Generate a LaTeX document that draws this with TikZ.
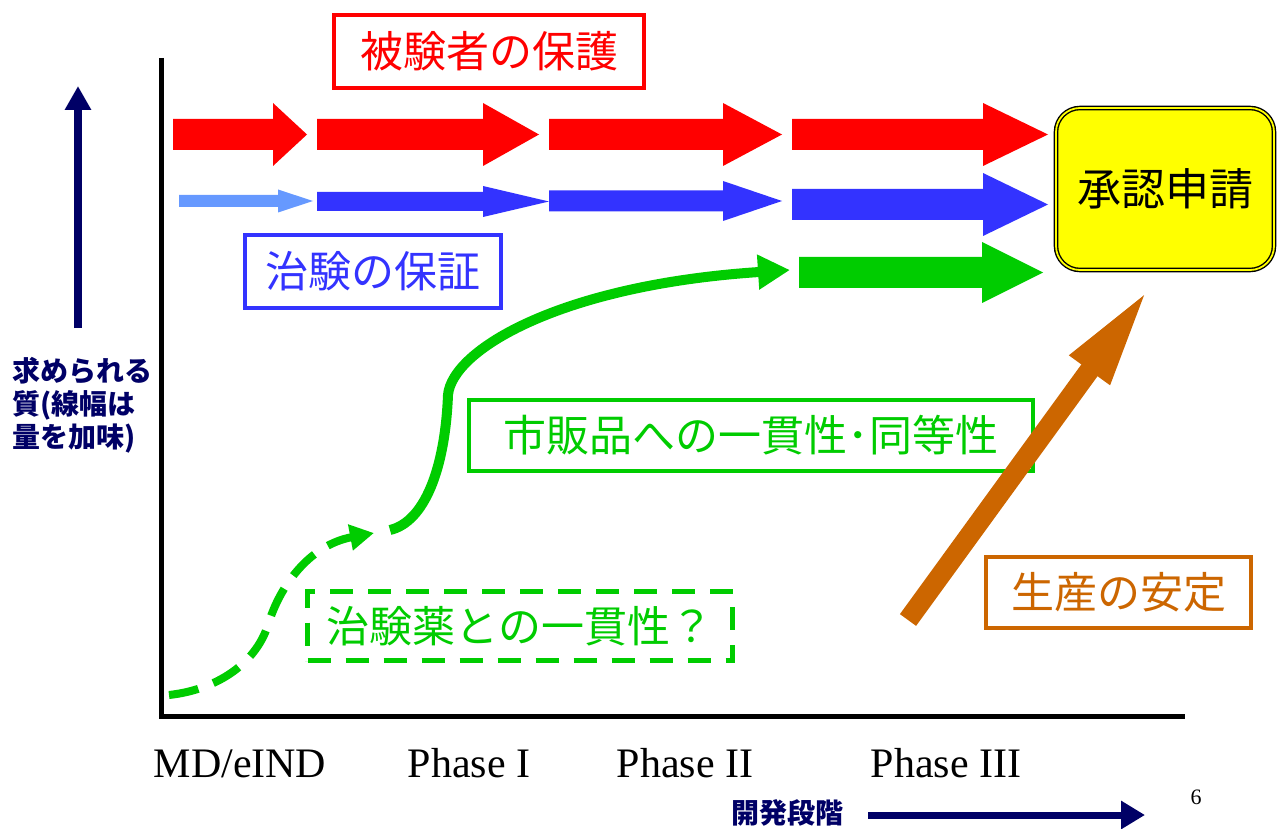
\documentclass[tikz,border=0pt]{standalone}
\usepackage{fontspec}
\setmainfont{Liberation Serif}
\newfontfamily\jpfont{Noto Sans CJK JP}
\usetikzlibrary{arrows.meta}
\definecolor{RedLine}{RGB}{255,0,0}
\definecolor{BlueLine}{RGB}{51,51,255}
\definecolor{PaleBlue}{RGB}{102,153,255}
\definecolor{GreenLine}{RGB}{0,204,0}
\definecolor{OrangeLine}{RGB}{204,102,0}
\definecolor{NavyText}{RGB}{0,0,102}
\definecolor{ApplyFill}{RGB}{255,255,0}

% flat block arrow: colour, x start, head start, tip, y centre, shaft half, head half
\newcommand{\blockarrow}[7]{%
  \fill[#1] (#2,{#5-#6}) -- (#3,{#5-#6}) -- (#3,{#5-#7}) -- (#4,#5)
    -- (#3,{#5+#7}) -- (#3,{#5+#6}) -- (#2,{#5+#6}) -- cycle;}

\begin{document}
\begin{tikzpicture}[x=1pt,y=-1pt]
	\tikzset{
		box/.style={draw=#1, text=#1, line width=4pt, fill=white, inner sep=0pt,
			font=\jpfont\fontsize{43}{43}\selectfont},
		axis/.style={line width=5pt},
		phase/.style={font=\fontsize{42}{42}\selectfont, anchor=base},
		navy/.style={text=NavyText, font=\jpfont\bfseries\fontsize{28}{33}\selectfont}
	}
	\useasboundingbox (0,0) rectangle (1278,829);
	
	% axes
	\coordinate (origin) at (161,716);
	\coordinate (ytop) at (161,58);
	\coordinate (xend) at (1185,716);
	\draw[axis] (ytop) -- (161,718);
	\draw[axis] (159,716) -- (xend);
	
	% rows of block arrows
	\blockarrow{RedLine}{173}{273}{307}{134.5}{15.5}{31.5}
	\blockarrow{RedLine}{317}{483}{539}{134.5}{15.5}{31.5}
	\blockarrow{RedLine}{549}{723}{782}{134.5}{15.5}{31.5}
	\blockarrow{RedLine}{792}{983}{1048}{134.5}{15.5}{31.5}
	
	\blockarrow{PaleBlue}{179}{278}{313}{201}{6}{11.5}
	\blockarrow{BlueLine}{317}{483}{549}{201.5}{9.5}{15.5}
	\blockarrow{BlueLine}{549}{723}{782}{201}{10.5}{20}
	\blockarrow{BlueLine}{792}{983}{1048}{204.5}{15.5}{31.5}
	
	\blockarrow{GreenLine}{799}{982}{1043}{272.5}{15.5}{30.5}
	
	% labelled boxes
	\node[box=RedLine, minimum width=310pt, minimum height=73pt] (protect) at (489,51.5) {被験者の保護};
	\node[box=BlueLine, minimum width=256pt, minimum height=73pt] (assure) at (373,271.5) {治験の保証};
	\node[box=GreenLine, minimum width=564pt, minimum height=71pt] (market) at (751,435.5) {市販品への一貫性･同等性};
	\node[box=GreenLine, dash pattern=on 23pt off 15pt, line width=5pt, minimum width=425pt, minimum height=69pt] (trial) at (520,626) {治験薬との一貫性？};
	\node[box=OrangeLine, minimum width=265pt, minimum height=71pt] (supply) at (1118.5,592.5) {生産の安定};
	\node[draw=black, double=ApplyFill, double distance=1.8pt, line width=1.4pt, fill=ApplyFill,
		rounded corners=24pt, minimum width=218pt, minimum height=162pt, inner sep=0pt,
		font=\jpfont\fontsize{44}{44}\selectfont] (apply) at (1165,189) {承認申請};
	
	% consistency curves
	\coordinate (dstart) at (169,695);
	\coordinate (dbend) at (268,625);
	\coordinate (dend) at (374,533);
	\draw[GreenLine, line width=8pt, dash pattern=on 30pt off 16pt,
		-{Triangle[width=25pt,length=24pt]}]
		(dstart) .. controls (215,690) and (255,665) .. (dbend)
		.. controls (280,585) and (310,545) .. (dend);
	
	\coordinate (cstart) at (390,530);
	\coordinate (cbend) at (448,395);
	\coordinate (cend) at (790,270);
	\draw[GreenLine, line width=10pt, -{Triangle[width=33pt,length=32pt]}]
		(cstart) .. controls (424,522) and (445,470) .. (cbend)
		.. controls (452,350) and (560,285) .. (cend);
	
	% production arrow
	\coordinate (pstart) at (908,620);
	\coordinate (pend) at (1150,287);
	\draw[OrangeLine, line width=20pt, -{Triangle[width=44pt,length=103pt]}] (pstart) -- (pend);
	
	% quality axis
	\coordinate (qlow) at (78,328);
	\coordinate (qhigh) at (78,86);
	\draw[NavyText, line width=8pt, -{Triangle[width=25pt,length=24pt]}] (qlow) -- (qhigh);
	\node[navy, align=left, anchor=west] (quality) at (9,405) {求められる\\質(線幅は\\量を加味)};
	
	% phases
	\node[phase] (md) at (240,777) {MD/eIND};
	\node[phase] (p1) at (469,777) {Phase I};
	\node[phase] (p2) at (685,777) {Phase II};
	\node[phase] (p3) at (946,777) {Phase III};
	
	% development axis
	\node[navy, anchor=west] (stage) at (728,813) {開発段階};
	\coordinate (sstart) at (868,815);
	\coordinate (send) at (1145,815);
	\draw[NavyText, line width=7pt, -{Triangle[width=27pt,length=24pt]}] (sstart) -- (send);
	\node[font=\fontsize{22}{22}\selectfont] (page) at (1196,797) {6};
\end{tikzpicture}
\end{document}
